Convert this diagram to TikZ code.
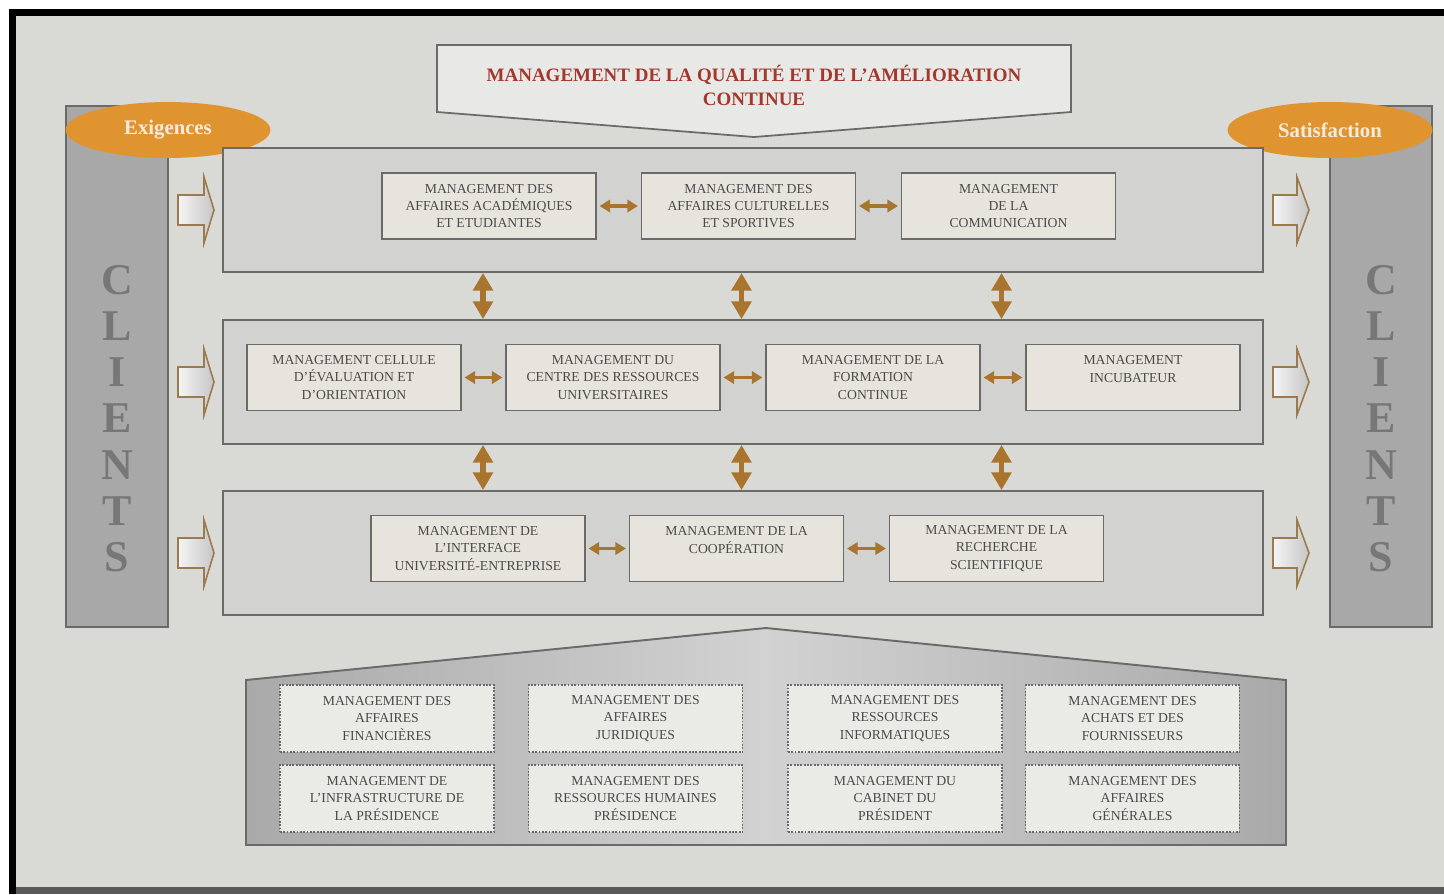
\documentclass[tikz,border=0pt]{standalone}
\usepackage{fontspec}
\setmainfont{Liberation Serif}
\usepackage{tikz}
\usetikzlibrary{calc,positioning,arrows.meta,shapes.geometric}
\definecolor{paperbg}{HTML}{D9D9D6}
\definecolor{rowgray}{HTML}{D2D2D0}
\definecolor{boxfill}{HTML}{E7E4DD}
\definecolor{supportfill}{HTML}{EAEAE7}
\definecolor{edgegray}{HTML}{6A6A6A}
\definecolor{txtgray}{HTML}{4A4A4A}
\definecolor{brownlink}{HTML}{A8742E}
\definecolor{arrowedge}{HTML}{9B7A4E}
\definecolor{ovalorange}{HTML}{DF9430}
\definecolor{ovaltext}{HTML}{F6EBDA}
\definecolor{titlered}{HTML}{A3382C}
\definecolor{clientgray}{HTML}{A8A8A8}
\definecolor{lettergray}{HTML}{777777}
\definecolor{pentside}{HTML}{A9A9A9}
\definecolor{pentmid}{HTML}{D2D2D2}

\begin{document}
\begin{tikzpicture}[x=0.02cm,y=-0.02cm,
  rowband/.style={draw=edgegray,line width=1.1pt,fill=rowgray,minimum width=20.8cm,minimum height=2.48cm,inner sep=0pt},
  unitbox/.style={draw=edgegray,line width=1.1pt,fill=boxfill,minimum width=4.28cm,minimum height=1.32cm,inner sep=1pt,align=center,text=txtgray,font=\fontsize{7.8}{9.9}\selectfont},
  supportbox/.style={draw=edgegray,dash pattern=on 1pt off 0.9pt,line width=1pt,fill=supportfill,minimum width=4.28cm,minimum height=1.34cm,inner sep=1pt,align=center,text=txtgray,font=\fontsize{7.8}{9.9}\selectfont},
  clientcol/.style={draw=edgegray,line width=1pt,fill=clientgray,minimum width=2.04cm,minimum height=10.42cm,inner sep=0pt},
  clientletter/.style={text=lettergray,font=\bfseries\fontsize{25}{25}\selectfont},
  oval/.style={ellipse,fill=ovalorange,minimum width=4.1cm,minimum height=1.12cm,inner sep=0pt,text=ovaltext,font=\bfseries\fontsize{11.8}{12}\selectfont},
  hlink/.style={brownlink,line width=2pt,{Triangle[width=7pt,length=6pt]}-{Triangle[width=7pt,length=6pt]},shorten <=1.5pt,shorten >=1.5pt},
  vlink/.style={brownlink,line width=3pt,{Triangle[width=11pt,length=10pt]}-{Triangle[width=11pt,length=10pt]}},
  inarrow/.style={draw=arrowedge,line width=0.9pt,left color=white!92!gray,right color=gray!45}]
  \useasboundingbox (0,0) rectangle (1444,894);
  \fill[white] (0,0) rectangle (1444,894);
  \fill[black] (9,9) rectangle (1444,894);
  \fill[black!65] (16,887) rectangle (1444,894);
  \fill[paperbg] (16,16) rectangle (1444,887);

  \draw[edgegray,line width=1pt,fill=paperbg!60!white] (437,45) -- (1071,45) -- (1071,112) -- (754,137) -- (437,112) -- cycle;
  \node[text=titlered,font=\bfseries\fontsize{10.8}{13.6}\selectfont,align=center] (title) at (754,85) {MANAGEMENT DE LA QUALITÉ ET DE L’AMÉLIORATION\\CONTINUE};

  \node[clientcol] (lclients) at (117,366.5) {};
  \node[clientcol] (rclients) at (1381,366.5) {};
  \foreach \ch [count=\k] in {C,L,I,E,N,T,S}{
    \node[clientletter] (lc\k) at (117,{280+46.2*(\k-1)}) {\ch};
    \node[clientletter] (rc\k) at (1381,{280+46.2*(\k-1)}) {\ch};
  }
  \node[oval] (exig) at (168,130) {Exigences};
  \node[oval] (satis) at (1330,130) {Satisfaction};

  \node[rowband] (row1) at (743,210) {};
  \node[rowband] (row2) at (743,382) {};
  \node[rowband] (row3) at (743,553) {};

  \foreach \yy in {210,382,553}{
    \draw[inarrow] (178,{\yy-15}) -- (204,{\yy-15}) -- (204,{\yy-33}) -- (214,\yy) -- (204,{\yy+33}) -- (204,{\yy+15}) -- (178,{\yy+15}) -- cycle;
    \draw[inarrow] (1273,{\yy-15}) -- (1297,{\yy-15}) -- (1297,{\yy-33}) -- (1309,\yy) -- (1297,{\yy+33}) -- (1297,{\yy+15}) -- (1273,{\yy+15}) -- cycle;
  }

  \node[unitbox] (aca) at (489,206) {MANAGEMENT DES\\AFFAIRES ACADÉMIQUES\\ET ETUDIANTES};
  \node[unitbox] (cul) at (748.5,206) {MANAGEMENT DES\\AFFAIRES CULTURELLES\\ET SPORTIVES};
  \node[unitbox] (com) at (1008.5,206) {MANAGEMENT\\DE LA\\COMMUNICATION};

  \node[unitbox] (eva) at (354,377.5) {MANAGEMENT CELLULE\\D’ÉVALUATION ET\\D’ORIENTATION};
  \node[unitbox] (cru) at (613,377.5) {MANAGEMENT DU\\CENTRE DES RESSOURCES\\UNIVERSITAIRES};
  \node[unitbox] (fco) at (873,377.5) {MANAGEMENT DE LA\\FORMATION\\CONTINUE};
  \node[unitbox] (inc) at (1133,377.5) {MANAGEMENT\\INCUBATEUR\\\mbox{}};

  \node[unitbox] (iue) at (478,548.5) {MANAGEMENT DE\\L’INTERFACE\\UNIVERSITÉ-ENTREPRISE};
  \node[unitbox] (coo) at (736.5,548.5) {MANAGEMENT DE LA\\COOPÉRATION\\\mbox{}};
  \node[unitbox] (rec) at (996.5,548.5) {MANAGEMENT DE LA\\RECHERCHE\\SCIENTIFIQUE};

  \draw[hlink] (aca) -- (cul);
  \draw[hlink] (cul) -- (com);
  \draw[hlink] (eva) -- (cru);
  \draw[hlink] (cru) -- (fco);
  \draw[hlink] (fco) -- (inc);
  \draw[hlink] (iue) -- (coo);
  \draw[hlink] (coo) -- (rec);
  \foreach \b in {iue,coo,rec}{
    \draw[vlink] ([xshift=0.1cm]row1.south -| \b) -- ([xshift=0.1cm]row2.north -| \b);
    \draw[vlink] ([xshift=0.1cm]row2.south -| \b) -- ([xshift=0.1cm]row3.north -| \b);
  }

  \draw[edgegray,line width=1.1pt,left color=pentside,right color=pentside,middle color=pentmid] (246,680) -- (766,628) -- (1286,680) -- (1286,845) -- (246,845) -- cycle;
  \node[supportbox] (fin) at (387,718.5) {MANAGEMENT DES\\AFFAIRES\\FINANCIÈRES};
  \node[supportbox] (jur) at (635.5,718.5) {MANAGEMENT DES\\AFFAIRES\\JURIDIQUES};
  \node[supportbox] (inf) at (895,718.5) {MANAGEMENT DES\\RESSOURCES\\INFORMATIQUES};
  \node[supportbox] (ach) at (1132.5,718.5) {MANAGEMENT DES\\ACHATS ET DES\\FOURNISSEURS};
  \node[supportbox] (ipr) at (387,798.5) {MANAGEMENT DE\\L’INFRASTRUCTURE DE\\LA PRÉSIDENCE};
  \node[supportbox] (rhp) at (635.5,798.5) {MANAGEMENT DES\\RESSOURCES HUMAINES\\PRÉSIDENCE};
  \node[supportbox] (cab) at (895,798.5) {MANAGEMENT DU\\CABINET DU\\PRÉSIDENT};
  \node[supportbox] (gen) at (1132.5,798.5) {MANAGEMENT DES\\AFFAIRES\\GÉNÉRALES};
\end{tikzpicture}
\end{document}
